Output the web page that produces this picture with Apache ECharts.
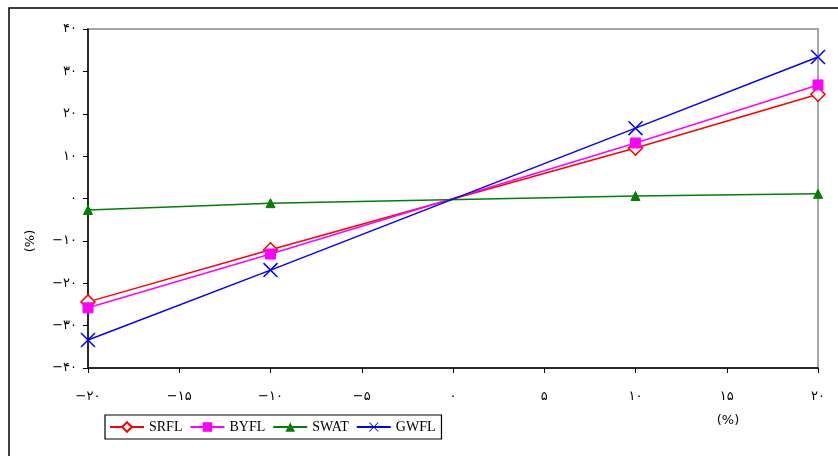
<!DOCTYPE html>
<html>
<head>
<meta charset="utf-8">
<script src="https://cdn.jsdelivr.net/npm/echarts@6/dist/echarts.min.js"></script>
<style>html,body{margin:0;padding:0;background:#fff}#c{width:838px;height:456px}</style>
</head>
<body>
<div id="c"></div>
<script>
var xValues = [-20, -10, 10, 20];
var srfl = [-24.4, -12.1, 11.9, 24.6];
var byfl = [-25.8, -13.1, 13.1, 26.8];
var swat = [-2.7, -1.1, 0.6, 1.1];
var gwfl = [-33.4, -16.9, 16.6, 33.4];
var seriesNames = ['SRFL', 'BYFL', 'SWAT', 'GWFL'];
var axisName = '(%)';

function fa(v) {
  var d = '۰۱۲۳۴۵۶۷۸۹';
  return String(v).replace('-', '\u2212').replace(/[0-9]/g, function (c) { return d[+c]; });
}
function pairs(ys) { return xValues.map(function (x, i) { return [x, ys[i]]; }); }

var xSym = 'path://M0,0.7L0.7,0L10,9.3L9.3,10ZM9.3,0L10,0.7L0.7,10L0,9.3Z';
var chart = echarts.init(document.getElementById('c'));
var labelFont = {color: '#000', fontFamily: 'DejaVu Sans', fontSize: 13};
chart.setOption({
  animation: false,
  grid: {left: 88, top: 29, right: 20, bottom: 88, show: true, borderColor: '#a6a6a6', borderWidth: 2, backgroundColor: 'transparent'},
  xAxis: {
    type: 'value', min: -20, max: 20, interval: 5,
    axisLine: {onZero: false, lineStyle: {color: '#000', width: 1.5}},
    axisTick: {show: true, length: 5, lineStyle: {color: '#000'}},
    splitLine: {show: false},
    axisLabel: Object.assign({margin: 22, formatter: function (v) { return fa(v); }}, labelFont)
  },
  yAxis: {
    type: 'value', min: -40, max: 40, interval: 10,
    axisLine: {show: true, onZero: false, lineStyle: {color: '#000', width: 1.5}},
    axisTick: {show: true, length: 5, lineStyle: {color: '#000'}},
    splitLine: {show: false},
    axisLabel: Object.assign({margin: 11, formatter: function (v) { return fa(v); }}, labelFont)
  },
  legend: {
    left: 105, top: 415, orient: 'horizontal',
    padding: [5, 6, 5, 4], itemGap: 7, itemWidth: 34, itemHeight: 12,
    borderColor: '#000', borderWidth: 1.2, backgroundColor: '#fff',
    textStyle: {fontFamily: 'Liberation Serif', fontSize: 14, color: '#000'},
    data: seriesNames
  },
  graphic: [
    {type: 'rect', shape: {x: 9, y: 8, width: 900, height: 600}, style: {fill: 'none', stroke: '#000', lineWidth: 1.5}, silent: true, z: -10},
    {type: 'text', x: 728, y: 421, style: {text: axisName, font: '13px DejaVu Sans', fill: '#000', align: 'center', verticalAlign: 'middle'}},
    {type: 'text', x: 31, y: 241, rotation: Math.PI / 2, style: {text: axisName, font: '13px DejaVu Sans', fill: '#000', align: 'center', verticalAlign: 'middle'}}
  ],
  series: [
    {name: 'SRFL', type: 'line', data: pairs(srfl), symbol: 'diamond', symbolSize: 14,
      lineStyle: {color: '#ff0000', width: 1.5},
      itemStyle: {color: '#fff', borderColor: '#ff0000', borderWidth: 1.5}},
    {name: 'BYFL', type: 'line', data: pairs(byfl), symbol: 'rect', symbolSize: 10,
      lineStyle: {color: '#ff00ff', width: 1.5},
      itemStyle: {color: '#ff00ff', borderColor: '#ff00ff'}},
    {name: 'SWAT', type: 'line', data: pairs(swat), symbol: 'triangle', symbolSize: 9,
      lineStyle: {color: '#008000', width: 1.5},
      itemStyle: {color: '#008000', borderColor: '#008000'}},
    {name: 'GWFL', type: 'line', data: pairs(gwfl), symbol: xSym, symbolSize: 15,
      lineStyle: {color: '#0000ff', width: 1.5},
      itemStyle: {color: '#0000ff', borderColor: '#0000ff', borderWidth: 0}}
  ]
});
</script>
</body>
</html>
